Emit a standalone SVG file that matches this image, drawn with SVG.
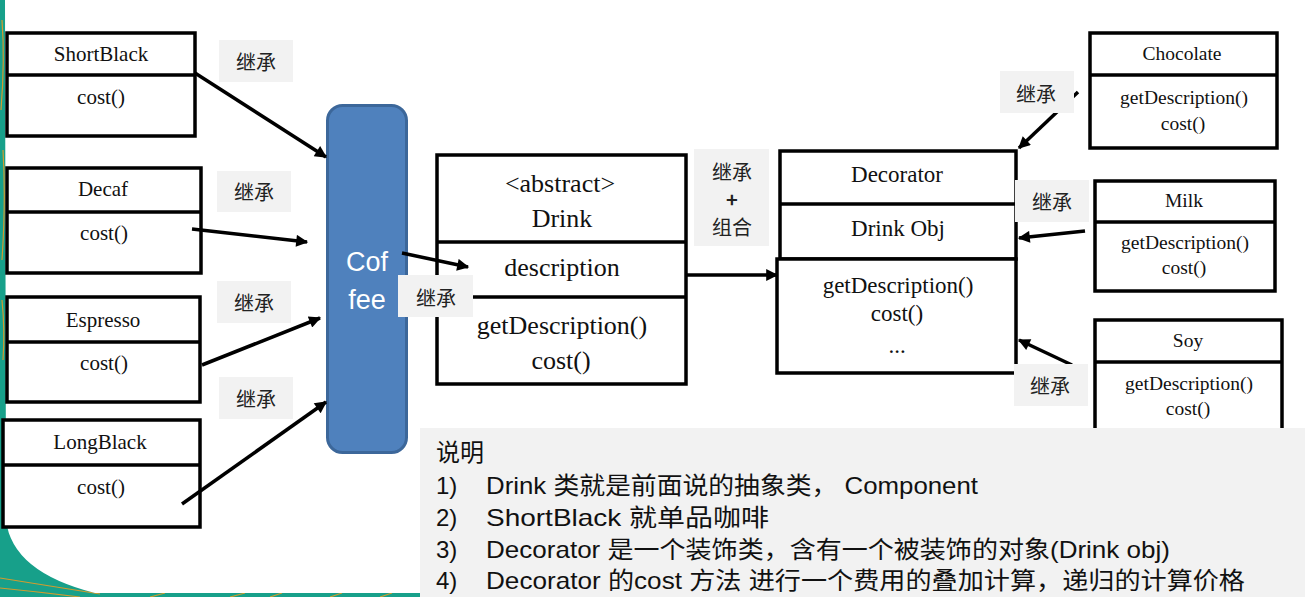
<svg xmlns="http://www.w3.org/2000/svg" width="1305" height="597" viewBox="0 0 1305 597">
<style>
.box{fill:#fff;stroke:#000;stroke-width:3.5}
.div{stroke:#000;stroke-width:3.5}
.t{font-family:"Liberation Serif","Times New Roman",serif;fill:#111;text-anchor:middle;dominant-baseline:central}
.s21{font-size:21px}.s26{font-size:26px}.s23{font-size:23px}.s19{font-size:19.5px}
.lbl{fill:#f2f2f2}
.lt{font-family:"Noto Sans CJK SC",sans-serif;font-size:20px;fill:#222;text-anchor:middle;dominant-baseline:central}
.ar{stroke:#000;stroke-width:3.5;fill:none;marker-end:url(#ah)}
.d{font-family:"Liberation Sans","Noto Sans CJK SC",sans-serif;font-size:24px;fill:#111}
</style>
<defs>
<marker id="ah" viewBox="0 0 10 10" refX="9" refY="5" markerWidth="15" markerHeight="12" markerUnits="userSpaceOnUse" orient="auto">
<path d="M0,0 L10,5 L0,10 Z" fill="#000"/>
</marker>
</defs>
<g id="background">
<rect x="0" y="0" width="1305" height="597" fill="#17a08a"/>
<g stroke="#f39c1f" stroke-width="1.2" fill="none" opacity="0.85">
<path d="M2,20 Q5,60 1,110"/><path d="M3,150 Q6,200 2,260"/><path d="M2,300 Q5,330 3,360"/>
<path d="M0,578 Q50,586 100,594"/><path d="M0,588 Q40,592 80,597"/>
<path d="M150,597 L165,593"/><path d="M230,597 L245,593"/><path d="M270,597 L282,593"/><path d="M330,597 L342,593"/><path d="M380,597 L392,593"/>
</g>
<path d="M5,0 H1305 V597 H420 V593 H95 Q12,572 6,520 Z" fill="#fff"/>
</g>
<g id="ShortBlack">
<rect class="box" x="7" y="33" width="188" height="103"/>
<line class="div" x1="7" y1="75" x2="195" y2="75"/>
<text class="t s21" x="101" y="54">ShortBlack</text>
<text class="t s21" x="101" y="97">cost()</text>
</g>
<g id="Decaf">
<rect class="box" x="7" y="168" width="194" height="105"/>
<line class="div" x1="7" y1="212" x2="201" y2="212"/>
<text class="t s21" x="103" y="189">Decaf</text>
<text class="t s21" x="104" y="233">cost()</text>
</g>
<g id="Espresso">
<rect class="box" x="7" y="297" width="193" height="105"/>
<line class="div" x1="7" y1="342" x2="200" y2="342"/>
<text class="t s21" x="103" y="320">Espresso</text>
<text class="t s21" x="104" y="363">cost()</text>
</g>
<g id="LongBlack">
<rect class="box" x="3" y="420" width="197" height="107"/>
<line class="div" x1="3" y1="465" x2="200" y2="465"/>
<text class="t s21" x="100" y="442">LongBlack</text>
<text class="t s21" x="101" y="487">cost()</text>
</g>
<g id="Coffee">
<rect x="327.5" y="105.5" width="79" height="347" rx="15" fill="#4f81bd" stroke="#3c679a" stroke-width="3"/>
<text x="367" y="271" font-family="Liberation Sans,Arial,sans-serif" font-size="27" fill="#fff" text-anchor="middle">Cof</text>
<text x="367" y="309" font-family="Liberation Sans,Arial,sans-serif" font-size="27" fill="#fff" text-anchor="middle">fee</text>
</g>
<g id="Drink">
<rect class="box" x="437" y="155" width="249" height="229"/>
<line class="div" x1="437" y1="242" x2="686" y2="242"/>
<line class="div" x1="437" y1="297" x2="686" y2="297"/>
<text class="t s26" x="560" y="183">&lt;abstract&gt;</text>
<text class="t s26" x="562" y="218">Drink</text>
<text class="t s26" x="562" y="267">description</text>
<text class="t s26" x="562" y="325">getDescription()</text>
<text class="t s26" x="561" y="360">cost()</text>
</g>
<g id="Decorator">
<rect class="box" x="780" y="151" width="236" height="108"/>
<line class="div" x1="780" y1="204" x2="1016" y2="204"/>
<rect class="box" x="777" y="259" width="239" height="114"/>
<text class="t s23" x="897" y="174">Decorator</text>
<text class="t s23" x="898" y="228">Drink Obj</text>
<text class="t s23" x="898" y="285">getDescription()</text>
<text class="t s23" x="897" y="313">cost()</text>
<text class="t s23" x="897" y="345">...</text>
</g>
<g id="Chocolate">
<rect class="box" x="1090" y="33" width="187" height="115"/>
<line class="div" x1="1090" y1="75" x2="1277" y2="75"/>
<text class="t s19" x="1182" y="53">Chocolate</text>
<text class="t s19" x="1184" y="97">getDescription()</text>
<text class="t s19" x="1183" y="123">cost()</text>
</g>
<g id="Milk">
<rect class="box" x="1095" y="181" width="180" height="110"/>
<line class="div" x1="1095" y1="222" x2="1275" y2="222"/>
<text class="t s19" x="1184" y="200">Milk</text>
<text class="t s19" x="1185" y="242">getDescription()</text>
<text class="t s19" x="1184" y="267">cost()</text>
</g>
<g id="Soy">
<rect class="box" x="1095" y="320" width="187" height="130"/>
<line class="div" x1="1095" y1="362" x2="1282" y2="362"/>
<text class="t s19" x="1188" y="340">Soy</text>
<text class="t s19" x="1189" y="383">getDescription()</text>
<text class="t s19" x="1188" y="408">cost()</text>
</g>
<g id="connectors">
<line class="ar" x1="195" y1="73" x2="326" y2="157"/>
<line class="ar" x1="192" y1="229" x2="307" y2="242"/>
<line class="ar" x1="202" y1="365" x2="320" y2="318"/>
<line class="ar" x1="182" y1="504" x2="326" y2="402"/>
<line class="ar" x1="402" y1="253" x2="468" y2="267"/>
<line class="ar" x1="686" y1="275" x2="777" y2="275"/>
<line class="ar" x1="1078" y1="92" x2="1019" y2="148"/>
<line class="ar" x1="1085" y1="231" x2="1019" y2="238"/>
<line class="ar" x1="1072" y1="365" x2="1019" y2="340"/>
</g>
<g id="labels">
<rect class="lbl" x="219" y="40" width="74" height="42"/><text class="lt" x="256" y="61">继承</text>
<rect class="lbl" x="217" y="171" width="74" height="41"/><text class="lt" x="254" y="191">继承</text>
<rect class="lbl" x="217" y="281" width="74" height="42"/><text class="lt" x="254" y="302">继承</text>
<rect class="lbl" x="219" y="377" width="74" height="42"/><text class="lt" x="256" y="398">继承</text>
<rect class="lbl" x="398" y="275" width="75" height="42"/><text class="lt" x="436" y="297">继承</text>
<rect class="lbl" x="694" y="149" width="75" height="97"/>
<text class="lt" x="732" y="171">继承</text>
<text class="lt" x="732" y="198" font-weight="bold">+</text>
<text class="lt" x="732" y="226">组合</text>
<rect class="lbl" x="1000" y="71" width="74" height="42"/><text class="lt" x="1036" y="93">继承</text>
<rect class="lbl" x="1015" y="180" width="74" height="42"/><text class="lt" x="1052" y="201">继承</text>
<rect class="lbl" x="1014" y="364" width="74" height="42"/><text class="lt" x="1050" y="385">继承</text>
</g>
<g id="notes">
<rect x="420" y="428" width="885" height="169" fill="#f2f2f2"/>
<text class="d" x="436" y="461">说明</text>
<text class="d" x="436" y="494">1)</text><text class="d" x="486" y="494" textLength="492" lengthAdjust="spacingAndGlyphs">Drink 类就是前面说的抽象类， Component</text>
<text class="d" x="436" y="526">2)</text><text class="d" x="486" y="526" textLength="283" lengthAdjust="spacingAndGlyphs">ShortBlack 就单品咖啡</text>
<text class="d" x="436" y="558">3)</text><text class="d" x="486" y="558" textLength="684" lengthAdjust="spacingAndGlyphs">Decorator 是一个装饰类，含有一个被装饰的对象(Drink obj)</text>
<text class="d" x="436" y="589">4)</text><text class="d" x="486" y="589" textLength="759" lengthAdjust="spacingAndGlyphs">Decorator 的cost 方法 进行一个费用的叠加计算，递归的计算价格</text>
</g>
</svg>
